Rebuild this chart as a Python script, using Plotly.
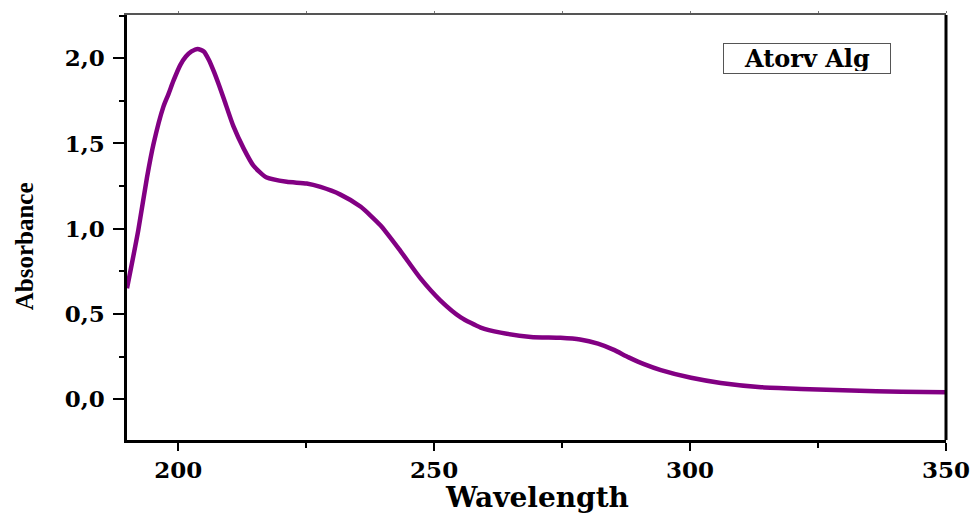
import plotly.graph_objects as go

# UV-Vis absorbance spectrum (wavelength in nm)
wavelength = [190.0, 192.2, 193.9, 195.2, 197.1, 198.1, 199.1, 200.4, 201.5, 202.6,
              203.8, 205.0, 206.0, 207.0, 208.0, 209.0, 210.8, 212.8, 214.7, 217.3,
              221.2, 225.1, 227.8, 231.7, 235.6, 239.5, 243.4, 247.3, 251.2, 255.2,
              259.1, 263.0, 268.9, 274.7, 278.5, 282.0, 285.0, 288.0, 291.0, 294.3,
              300.2, 306.0, 313.9, 321.7, 331.5, 341.3, 350.0]
absorbance = [0.65, 0.99, 1.30, 1.50, 1.715, 1.79, 1.87, 1.96, 2.01, 2.04,
              2.055, 2.04, 1.99, 1.92, 1.84, 1.755, 1.60, 1.47, 1.37, 1.30,
              1.275, 1.265, 1.245, 1.20, 1.13, 1.02, 0.87, 0.71, 0.58, 0.48,
              0.42, 0.39, 0.365, 0.36, 0.35, 0.325, 0.29, 0.245, 0.205, 0.17,
              0.125, 0.095, 0.07, 0.06, 0.05, 0.043, 0.04]

series_name = "Atorv Alg"
x_title = "Wavelength"
y_title = "Absorbance"
x_ticks = [200, 250, 300, 350]
y_ticks = [0.0, 0.5, 1.0, 1.5, 2.0]

tick_font = dict(family="DejaVu Serif", size=23, color="black", weight="bold")

fig = go.Figure()
fig.add_trace(go.Scatter(
    x=wavelength, y=absorbance, mode="lines", name=series_name,
    line=dict(color="#820083", width=4.5, shape="spline", smoothing=0.6),
    showlegend=False,
))

fig.update_layout(
    width=974, height=517,
    margin=dict(l=127, r=28, t=15, b=77, autoexpand=False),
    paper_bgcolor="white", plot_bgcolor="white",
    separators=",.",
    xaxis=dict(
        range=[190, 350], tickvals=x_ticks, tickformat="d", automargin=False,
        showline=True, linecolor="black", linewidth=2.5,
        ticks="outside", ticklen=8, tickwidth=2, tickcolor="black",
        minor=dict(dtick=25, tick0=0, ticks="outside", ticklen=5, tickwidth=2, tickcolor="black"),
        showgrid=False, zeroline=False, tickfont=tick_font,
    ),
    yaxis=dict(
        range=[-0.24, 2.254], tickvals=y_ticks, tickformat=".1f", automargin=False,
        showline=True, linecolor="black", linewidth=2.5,
        ticks="outside", ticklen=11, tickwidth=2, tickcolor="black",
        minor=dict(dtick=0.25, tick0=0, ticks="outside", ticklen=5, tickwidth=2, tickcolor="black"),
        showgrid=False, zeroline=False, tickfont=tick_font, ticklabelstandoff=4,
    ),
    xaxis2=dict(
        overlaying="x", side="top", range=[190, 350], matches="x", automargin=False,
        showline=True, linecolor="#555555", linewidth=1.5,
        ticks="outside", ticklen=2, tickwidth=1, tickcolor="#777777",
        dtick=25, tick0=0, showticklabels=False, showgrid=False, zeroline=False,
    ),
    shapes=[dict(type="line", xref="paper", yref="paper", x0=1, x1=1, y0=0, y1=1,
                 line=dict(color="black", width=3))],
    annotations=[
        dict(text=x_title, xref="paper", yref="paper", x=0.5, y=-0.178,
             xanchor="center", yanchor="bottom", showarrow=False,
             font=dict(family="DejaVu Serif", size=28, color="black", weight="bold")),
        dict(text=y_title, xref="paper", yref="paper", x=-0.125, y=0.455,
             xanchor="center", yanchor="middle", showarrow=False, textangle=-90,
             font=dict(family="Liberation Serif", size=25, color="black", weight="bold")),
        dict(text=series_name, xref="paper", yref="paper", x=0.830, y=0.8976,
             xanchor="center", yanchor="middle", showarrow=False,
             bordercolor="#555555", borderwidth=1, borderpad=2, bgcolor="white",
             width=162, height=25,
             font=dict(family="DejaVu Serif", size=24, color="black", weight="bold")),
    ],
)
# empty trace that carries the top axis
fig.add_trace(go.Scatter(x=[190, 350], y=[None, None], xaxis="x2", showlegend=False,
                         hoverinfo="skip"))

fig.write_html("out.html")
